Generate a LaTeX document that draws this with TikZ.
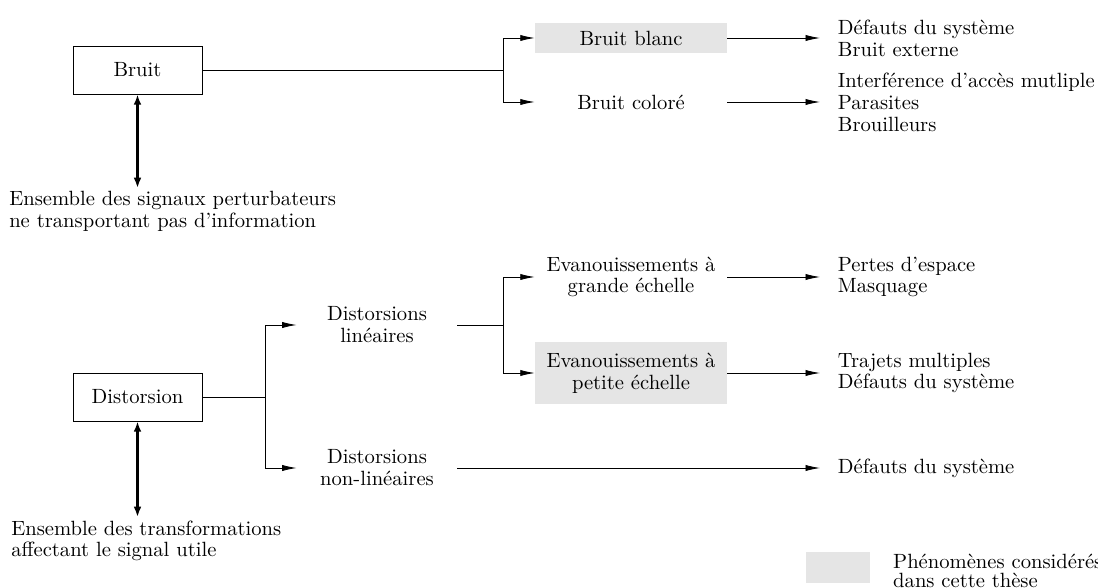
\documentclass[tikz,border=0pt]{standalone}
\usetikzlibrary{arrows.meta}
\begin{document}
\begin{tikzpicture}[x=0.485pt,y=-0.485pt,
    font=\fontsize{10}{10.6}\selectfont,
    box/.style={draw,minimum width=62.5pt,minimum height=23.3pt},
    kind/.style={minimum width=93pt,minimum height=15pt},
    kindtwo/.style={align=center,minimum width=93pt,minimum height=30pt},
    dkind/.style={align=center,minimum width=77.6pt},
    shaded/.style={fill=black!10},
    cause/.style={anchor=west,align=left,inner xsep=8.5pt},
    note/.style={anchor=north west,align=left,inner ysep=1.5pt},
    arr/.style={-{Latex[length=7pt,width=3pt]}},
    big/.style={{Latex[length=5pt,width=3.8pt]}-{Latex[length=5pt,width=3.8pt]},line width=1.3pt}]
      \useasboundingbox (0,0) rectangle (1098,588);
      \node[box] (bruit) at (137.5,70) {Bruit};
      \node[kind,shaded] (blanc) at (631,38) {Bruit blanc};
      \node[kind] (colore) at (631,102) {Bruit coloré};
      \node[cause] (sys) at (820,38) {Défauts du système\\Bruit externe};
      \node[cause] (inter) at (820,102) {Interférence d'accès mutliple\\Parasites\\Brouilleurs};
      \node[note] (sigx) at (2,188) {Ensemble des signaux perturbateurs\\ne transportant pas d'information};
      \coordinate (jb) at (503,70);
      \node[box] (dist) at (137.5,397) {Distorsion};
      \node[dkind] (lin) at (377,325) {Distorsions\\linéaires};
      \node[dkind] (nonlin) at (377,468) {Distorsions\\non-linéaires};
      \node[kindtwo] (grande) at (631,277) {Evanouissements à\\grande échelle};
      \node[kindtwo,shaded] (petite) at (631,373) {Evanouissements à\\petite échelle};
      \node[cause] (pertes) at (820,277) {Pertes d'espace\\Masquage};
      \node[cause] (trajets) at (820,373) {Trajets multiples\\Défauts du système};
      \node[cause] (sysb) at (820,468) {Défauts du système};
      \node[note] (trans) at (4,517) {Ensemble des transformations\\affectant le signal utile};
      \coordinate (jd) at (265,397);
      \coordinate (jl) at (503,325);
      \node[shaded,minimum width=31pt,minimum height=15pt] (leg) at (838,567.5) {};
      \node[cause,inner xsep=3.3pt,font=\fontsize{10}{9}\selectfont] (legtxt) at (886,571) {Phénomènes considérés\\dans cette thèse};
      \draw (bruit) -- (jb);
      \draw[arr] (jb) |- (blanc.west);
      \draw[arr] (jb) |- (colore.west);
      \draw[arr] (blanc) -- (sys);
      \draw[arr] (colore) -- (inter);
      \draw[big] (bruit) -- (bruit |- sigx.north);
      \draw (dist) -- (jd);
      \draw[arr] (jd) |- (lin.west);
      \draw[arr] (jd) |- (nonlin.west);
      \draw (lin) -- (jl);
      \draw[arr] (jl) |- (grande.west);
      \draw[arr] (jl) |- (petite.west);
      \draw[arr] (grande) -- (pertes);
      \draw[arr] (petite) -- (trajets);
      \draw[arr] (nonlin) -- (sysb);
      \draw[big] (dist) -- (dist |- trans.north);
    \end{tikzpicture}
\end{document}
